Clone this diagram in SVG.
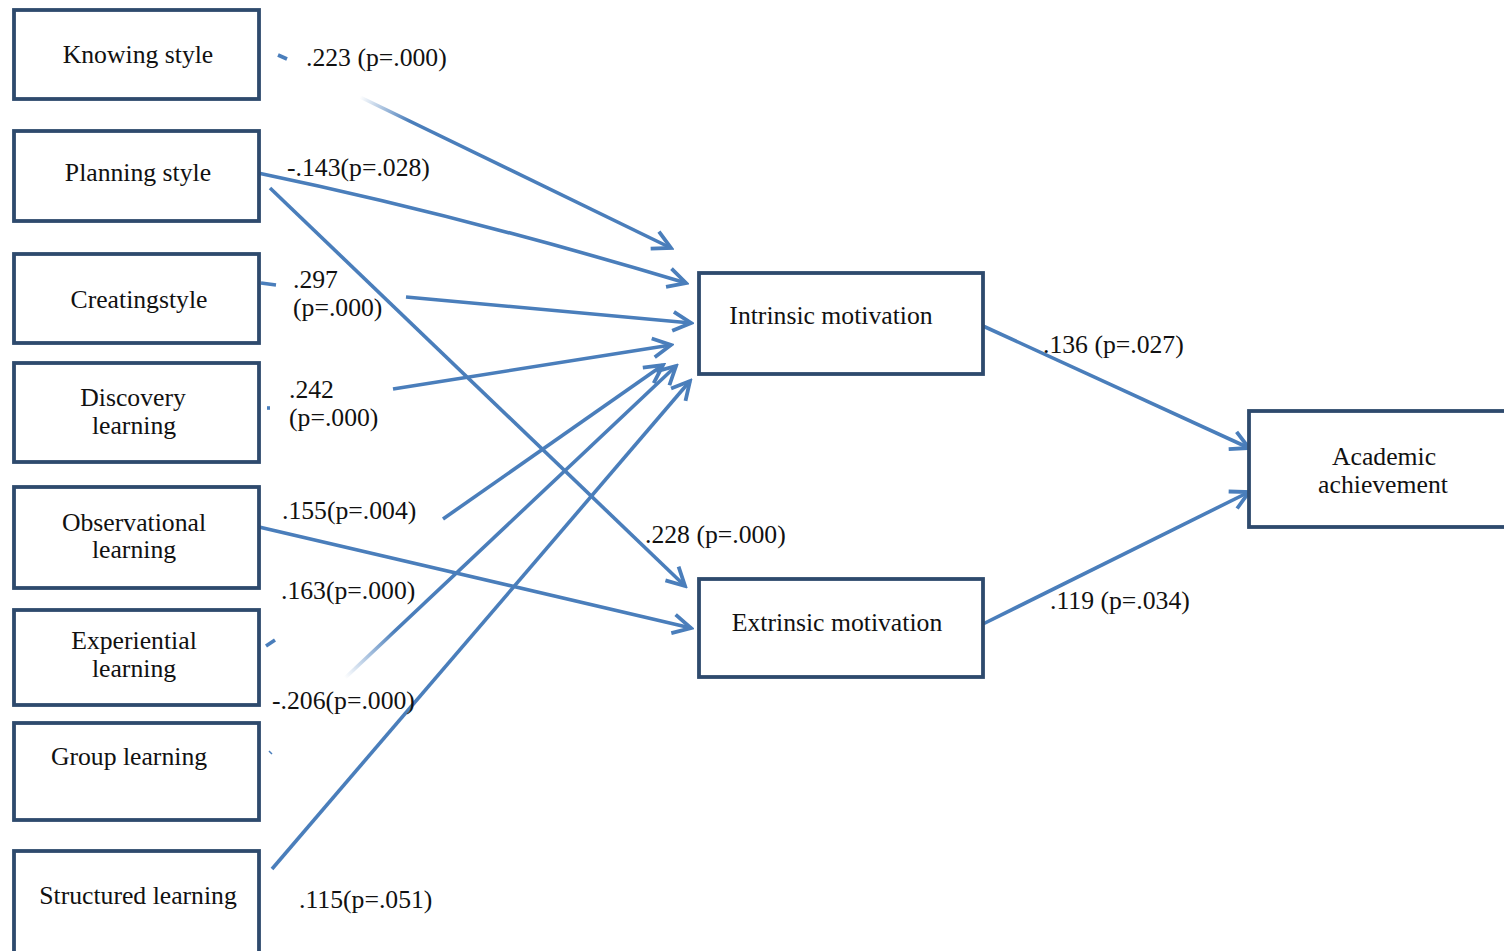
<svg xmlns="http://www.w3.org/2000/svg" width="1504" height="951" viewBox="0 0 1504 951">
<style>
.box{fill:#fff;stroke:#2E4A6D;stroke-width:3.8}
.t{font-family:"Liberation Serif","Times New Roman",serif;font-size:25.7px;fill:#111}
.c{text-anchor:middle}
.ln{fill:none;stroke:#4A7EBB;stroke-width:3.6;stroke-linecap:butt}
</style>
<defs>
<marker id="arr" viewBox="0 0 24 24" refX="21" refY="12" markerWidth="24" markerHeight="24" markerUnits="userSpaceOnUse" orient="auto">
<path d="M3,2.5 L21,12 L3,21.5" fill="none" stroke="#4A7EBB" stroke-width="3.8"/>
</marker>
<linearGradient id="fadeK" gradientUnits="userSpaceOnUse" x1="360" y1="97" x2="410" y2="120">
<stop offset="0" stop-color="#4A7EBB" stop-opacity="0"/><stop offset="1" stop-color="#4A7EBB" stop-opacity="1"/>
</linearGradient>
<linearGradient id="fadeE" gradientUnits="userSpaceOnUse" x1="345" y1="678" x2="395" y2="630">
<stop offset="0" stop-color="#4A7EBB" stop-opacity="0"/><stop offset="1" stop-color="#4A7EBB" stop-opacity="1"/>
</linearGradient>
</defs>
<rect width="1504" height="951" fill="#fff"/>

<g id="connectors">
<path class="ln" d="M360,97 L671,248" style="stroke:url(#fadeK)" marker-end="url(#arr)"/>
<path class="ln" d="M258,173 Q460,215 686,283" marker-end="url(#arr)"/>
<path class="ln" d="M270,188 L685,586" marker-end="url(#arr)"/>
<path class="ln" d="M406,297 L691,323" marker-end="url(#arr)"/>
<path class="ln" d="M393,389 L671,345" marker-end="url(#arr)"/>
<path class="ln" d="M443,519 L663,365" marker-end="url(#arr)"/>
<path class="ln" d="M345,678 L676,366" style="stroke:url(#fadeE)" marker-end="url(#arr)"/>
<path class="ln" d="M272,869 L690,381" marker-end="url(#arr)"/>
<path class="ln" d="M259,527 L691,628" marker-end="url(#arr)"/>
<path class="ln" d="M983,326 L1249,448" marker-end="url(#arr)"/>
<path class="ln" d="M983,624 L1249,492" marker-end="url(#arr)"/>
<path class="ln" d="M278,55 L287,59"/>
<path class="ln" d="M261,283 L276,285"/>
<path class="ln" d="M267,408 L270,408"/>
<path class="ln" d="M266,646 L275,640"/>
<path d="M269,751 L272,754" stroke="#4A7EBB" stroke-width="1.5"/>
</g>

<g id="n-knowing"><rect class="box" x="14" y="10" width="245" height="89"/><text class="t c" x="138" y="63">Knowing style</text></g>
<g id="n-planning"><rect class="box" x="14" y="131" width="245" height="90"/><text class="t c" x="138" y="181">Planning style</text></g>
<g id="n-creating"><rect class="box" x="14" y="254" width="245" height="89"/><text class="t c" x="139" y="308">Creatingstyle</text></g>
<g id="n-discovery"><rect class="box" x="14" y="363" width="245" height="99"/><text class="t c" x="133" y="406">Discovery</text><text class="t c" x="134" y="434">learning</text></g>
<g id="n-observational"><rect class="box" x="14" y="487" width="245" height="101"/><text class="t c" x="134" y="531">Observational</text><text class="t c" x="134" y="558">learning</text></g>
<g id="n-experiential"><rect class="box" x="14" y="610" width="245" height="95"/><text class="t c" x="134" y="649">Experiential</text><text class="t c" x="134" y="677">learning</text></g>
<g id="n-group"><rect class="box" x="14" y="723" width="245" height="97"/><text class="t c" x="129" y="765">Group learning</text></g>
<g id="n-structured"><rect class="box" x="14" y="851" width="245" height="110"/><text class="t c" x="138" y="904">Structured learning</text></g>
<g id="n-intrinsic"><rect class="box" x="699" y="273" width="284" height="101"/><text class="t c" x="831" y="324">Intrinsic motivation</text></g>
<g id="n-extrinsic"><rect class="box" x="699" y="579" width="284" height="98"/><text class="t c" x="837" y="631">Extrinsic motivation</text></g>
<g id="n-academic"><rect class="box" x="1249" y="411" width="270" height="116"/><text class="t c" x="1384" y="465">Academic</text><text class="t c" x="1383" y="493">achievement</text></g>

<g id="labels">
<text class="t" x="306" y="66">.223 (p=.000)</text>
<text class="t" x="287" y="176">-.143(p=.028)</text>
<text class="t" x="293" y="288">.297</text>
<text class="t" x="293" y="316">(p=.000)</text>
<text class="t" x="289" y="398">.242</text>
<text class="t" x="289" y="426">(p=.000)</text>
<text class="t" x="282" y="519">.155(p=.004)</text>
<text class="t" x="281" y="599">.163(p=.000)</text>
<text class="t" x="272" y="709">-.206(p=.000)</text>
<text class="t" x="299" y="908">.115(p=.051)</text>
<text class="t" x="645" y="543">.228 (p=.000)</text>
<text class="t" x="1043" y="353">.136 (p=.027)</text>
<text class="t" x="1050" y="609">.119 (p=.034)</text>
</g>
</svg>
